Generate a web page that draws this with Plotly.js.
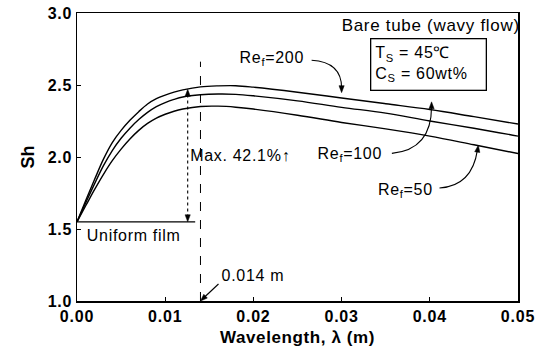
<!DOCTYPE html>
<html>
<head>
<meta charset="utf-8">
<script src="https://cdn.plot.ly/plotly-3.0.1.min.js"></script>
<style>
html,body{margin:0;padding:0;background:#fff;}
#chart{width:537px;height:354px;}
#chart .annotation-text{letter-spacing:0.7px;}
#chart .xtick text,#chart .ytick text{letter-spacing:0.8px;}
#chart .g-xtitle text{letter-spacing:0.6px;}
</style>
</head>
<body>
<div id="chart"></div>
<script>
// Wavelength (m)
const wavelength = [0, 0.001, 0.002, 0.003, 0.004, 0.005, 0.006, 0.007, 0.008, 0.009, 0.010, 0.011, 0.012, 0.014, 0.016, 0.018, 0.020, 0.025, 0.030, 0.035, 0.040, 0.045, 0.050];
// Sherwood number for each film Reynolds number
const shRe200 = [1.55, 1.70, 1.845, 1.985, 2.10, 2.185, 2.255, 2.315, 2.368, 2.405, 2.43, 2.45, 2.466, 2.487, 2.494, 2.495, 2.485, 2.45, 2.41, 2.37, 2.33, 2.28, 2.229];
const shRe100 = [1.55, 1.683, 1.815, 1.94, 2.045, 2.13, 2.20, 2.26, 2.31, 2.35, 2.378, 2.40, 2.417, 2.432, 2.437, 2.435, 2.425, 2.39, 2.345, 2.305, 2.25, 2.20, 2.145];
const shRe50  = [1.55, 1.663, 1.775, 1.88, 1.975, 2.055, 2.125, 2.185, 2.233, 2.27, 2.297, 2.318, 2.333, 2.351, 2.353, 2.346, 2.333, 2.29, 2.24, 2.195, 2.145, 2.085, 2.024];
const seriesNames = ["Re<sub>f</sub>=200", "Re<sub>f</sub>=100", "Re<sub>f</sub>=50"];
const uniformSh = 1.55;
const optimumWavelength = 0.014;
const maxArrowX = 0.01255;
const maxArrowTop = 2.47;
const xTickVals = [0, 0.01, 0.02, 0.03, 0.04, 0.05];
const xTickText = ["0.00", "0.01", "0.02", "0.03", "0.04", "0.05"];
const yTickVals = [1.0, 1.5, 2.0, 2.5, 3.0];
const yTickText = ["1.0", "1.5", "2.0", "2.5", "3.0"];

const FONT = "Liberation Sans, Arial, Helvetica, sans-serif";
const X_RANGE = [0, 0.05], Y_RANGE = [1.0, 3.0];
const M = {l: 77, r: 19, t: 13, b: 53}, W = 537, H = 354;
const pxX = (W - M.l - M.r) / (X_RANGE[1] - X_RANGE[0]);
const pxY = (H - M.t - M.b) / (Y_RANGE[1] - Y_RANGE[0]);

// filled triangular arrow head whose tip is at (x, y), pointing along screen direction (dx, dy)
function arrowHead(x, y, dx, dy, len = 7, half = 2.6) {
  const n = Math.hypot(dx, dy); const ux = dx / n, uy = dy / n;
  const bx = -ux * len, by = -uy * len;
  const p1 = [bx - uy * half, by + ux * half], p2 = [bx + uy * half, by - ux * half];
  const toD = p => [x + p[0] / pxX, y - p[1] / pxY];
  const a = toD(p1), b = toD(p2);
  return {type: "path", path: `M ${x} ${y} L ${a[0]} ${a[1]} L ${b[0]} ${b[1]} Z`,
          fillcolor: "#000", line: {color: "#000", width: 0.5}};
}

const line = {color: "#000", width: 1.4, shape: "spline", smoothing: 1.0};
const traces = [shRe200, shRe100, shRe50].map((ys, i) => ({
  x: wavelength, y: ys, type: "scatter", mode: "lines", line: line,
  name: seriesNames[i], hoverinfo: "skip", showlegend: false
}));

const annFont = {family: FONT, size: 16, color: "#000"};
const annotations = [
  {x: 0.0496, y: 2.915, xanchor: "right", yanchor: "middle", text: "Bare tube (wavy flow)", showarrow: false, font: {family: FONT, size: 17, color: "#000"}},
  {x: 0.0398, y: 2.64, xanchor: "center", yanchor: "middle", text: "T<sub>S</sub> = 45℃<br>C<sub>S</sub> = 60wt%", showarrow: false, align: "left",
   font: {family: FONT, size: 16, color: "#000"}, bordercolor: "#000", borderwidth: 1.3, borderpad: 4, width: 106, height: 42},
  {x: 0.0221, y: 2.685, text: seriesNames[0], showarrow: false, font: annFont},
  {x: 0.0309, y: 2.015, text: seriesNames[1], showarrow: false, font: annFont},
  {x: 0.0372, y: 1.77, text: seriesNames[2], showarrow: false, font: annFont},
  {x: 0.0185, y: 2.01, text: "Max. 42.1%↑", showarrow: false, font: annFont},
  {x: 0.0064, y: 1.455, text: "Uniform film", showarrow: false, font: annFont},
  {x: 0.0200, y: 1.18, text: "0.014 m", showarrow: false, font: annFont}
];

const shapes = [
  // dashed marker at optimum wavelength
  {type: "line", x0: optimumWavelength, x1: optimumWavelength, y0: 1.0, y1: 2.662, line: {color: "#000", width: 1, dash: "dash"}},
  // uniform film level
  {type: "line", x0: 0, x1: 0.0134, y0: uniformSh, y1: uniformSh, line: {color: "#000", width: 1.3}},
  // max increase arrow shaft and heads
  {type: "line", x0: maxArrowX, x1: maxArrowX, y0: uniformSh + 0.03, y1: maxArrowTop - 0.03, line: {color: "#000", width: 1.1, dash: "dot"}},
  arrowHead(maxArrowX, maxArrowTop, 0, -1),
  arrowHead(maxArrowX, uniformSh, 0, 1),
  // leader for 0.014 m
  {type: "line", x0: optimumWavelength + 18 / pxX, y0: 1.0 + 17 / pxY, x1: optimumWavelength + 2 / pxX, y1: 1.0 + 2 / pxY, line: {color: "#000", width: 1.1}},
  arrowHead(optimumWavelength, 1.0, -18, 17),
  // curved leaders to curves
  {type: "path", path: "M 0.0266 2.672 Q 0.0300 2.66 0.0300 2.48", line: {color: "#000", width: 1.1}},
  arrowHead(0.0300, 2.447, 0, 1),
  {type: "path", path: "M 0.0357 2.025 Q 0.0402 2.05 0.0402 2.35", line: {color: "#000", width: 1.1}},
  arrowHead(0.0402, 2.383, 0, -1),
  {type: "path", path: "M 0.0411 1.785 Q 0.0448 1.80 0.0454 2.05", line: {color: "#000", width: 1.1}},
  arrowHead(0.0455, 2.082, 0.15, -1)
];

const layout = {
  width: W, height: H,
  margin: M,
  paper_bgcolor: "#fff", plot_bgcolor: "#fff",
  showlegend: false,
  font: {family: FONT, color: "#000"},
  xaxis: {
    range: X_RANGE, tickvals: xTickVals, ticktext: xTickText,
    ticks: "inside", ticklen: 4, tickwidth: 1, tickcolor: "#000",
    showline: true, mirror: true, linecolor: "#000", linewidth: 1.5,
    showgrid: false, zeroline: false,
    tickfont: {family: FONT, size: 16, color: "#000", weight: "bold"},
    title: {text: "Wavelength, λ (m)", font: {family: FONT, size: 17, color: "#000", weight: "bold"}, standoff: 7}
  },
  yaxis: {
    range: Y_RANGE, tickvals: yTickVals, ticktext: yTickText,
    ticks: "inside", ticklen: 4, tickwidth: 1, tickcolor: "#000",
    showline: true, mirror: true, linecolor: "#000", linewidth: 1.5,
    showgrid: false, zeroline: false,
    tickfont: {family: FONT, size: 16, color: "#000", weight: "bold"},
    title: {text: "Sh", font: {family: FONT, size: 18, color: "#000", weight: "bold"}, standoff: 10}
  },
  annotations: annotations,
  shapes: shapes
};

Plotly.newPlot("chart", traces, layout, {staticPlot: true, displayModeBar: false});
</script>
</body>
</html>
